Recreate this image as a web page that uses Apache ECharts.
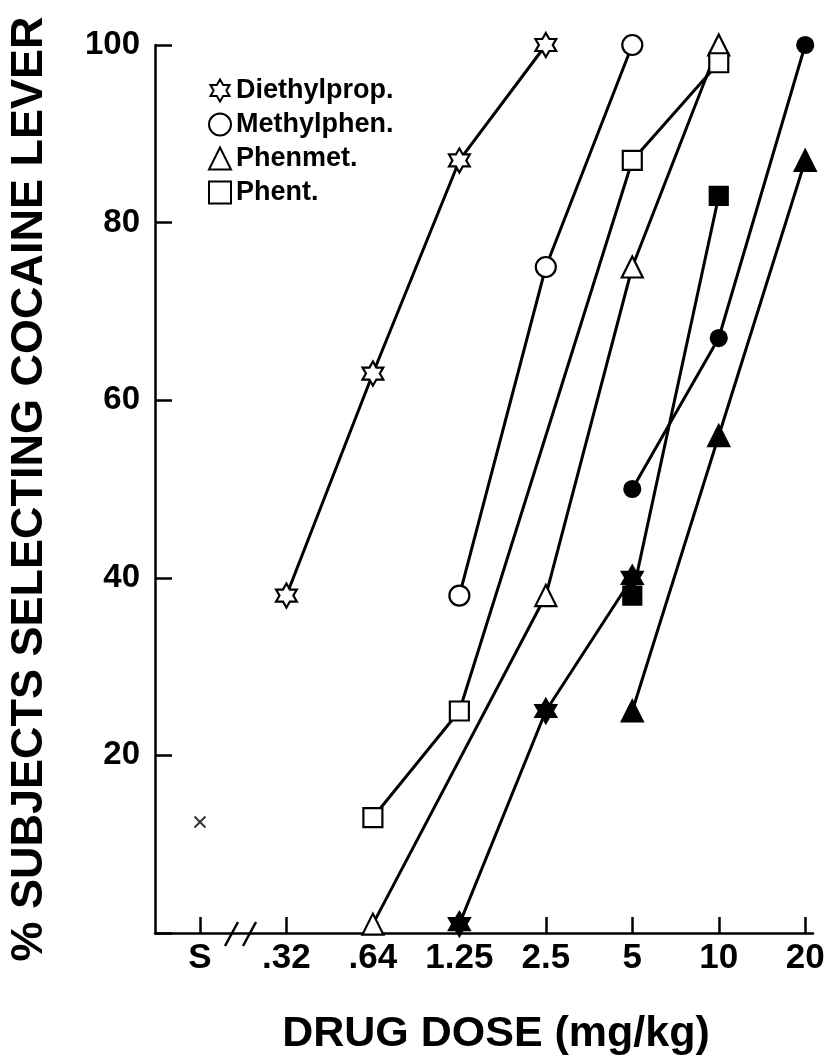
<!DOCTYPE html>
<html>
<head>
<meta charset="utf-8">
<script src="https://cdn.jsdelivr.net/npm/echarts@6/dist/echarts.min.js"></script>
<style>
  html, body { margin: 0; padding: 0; background: #fff; }
  #chart { width: 835px; height: 1059px; }
</style>
</head>
<body>
<div id="chart"></div>
<script>
// dose categories along the x axis (S = saline)
const doseLabels = ['S', '.32', '.64', '1.25', '2.5', '5', '10', '20'];
const yTicks = [0, 20, 40, 60, 80, 100];

// open symbols
const dietDose = ['.32', '.64', '1.25', '2.5'];
const dietPct = [38, 63, 87, 100];
const methDose = ['1.25', '2.5', '5'];
const methPct = [38, 75, 100];
const phenmetDose = ['.64', '2.5', '5', '10'];
const phenmetPct = [1, 38, 75, 100];
const phentDose = ['.64', '1.25', '5', '10'];
const phentPct = [13, 25, 87, 98];

// filled symbols
const dietFilledDose = ['1.25', '2.5', '5'];
const dietFilledPct = [1, 25, 40];
const methFilledDose = ['5', '10', '20'];
const methFilledPct = [50, 67, 100];
const phenmetFilledDose = ['5', '10', '20'];
const phenmetFilledPct = [25, 56, 87];
const phentFilledDose = ['5', '10'];
const phentFilledPct = [38, 83];

// saline
const salineDose = ['S'];
const salinePct = [12.5];

const FONT = "'Liberation Sans', Arial, Helvetica, sans-serif";

// six-pointed star outline
function hexagram() {
    const pts = [];
    for (let k = 0; k < 12; k++) {
        const a = (-90 + 30 * k) * Math.PI / 180;
        const r = k % 2 === 0 ? 50 : 28.87;
        pts.push((50 + r * Math.cos(a)).toFixed(2) + ',' + (50 + r * Math.sin(a)).toFixed(2));
    }
    return 'path://M' + pts.join('L') + 'Z';
}
const STAR = hexagram();

const toPoints = (doses, pcts) => doses.map((d, i) => [doseLabels.indexOf(d), pcts[i]]);

const lineSeries = (name, doses, pcts, symbol, size, filled) => ({
    name: name,
    type: 'line',
    data: toPoints(doses, pcts),
    symbol: symbol,
    symbolSize: size,
    symbolKeepAspect: true,
    showSymbol: true,
    silent: true,
    z: filled ? 3 : 4,
    lineStyle: { color: '#000', width: 3 },
    itemStyle: { color: filled ? '#000' : '#fff', borderColor: '#000', borderWidth: 2.2 },
    emphasis: { disabled: true },
})

const openStyle = { color: '#fff', borderColor: '#000', borderWidth: 2 };

const chart = echarts.init(document.getElementById('chart'));
const option = {
    animation: false,
    backgroundColor: '#fff',
    grid: { left: 155, right: 22, top: 45, bottom: 126, outerBoundsMode: 'none' },
    legend: {
        orient: 'vertical',
        left: 203,
        top: 72,
        itemWidth: 22,
        itemHeight: 22,
        itemGap: 7,
        selectedMode: false,
        textStyle: { fontFamily: FONT, fontWeight: 'bold', fontSize: 27, color: '#000' },
        data: [
            { name: 'Diethylprop.', icon: STAR, itemStyle: openStyle },
            { name: 'Methylphen.', icon: 'circle', itemStyle: openStyle },
            { name: 'Phenmet.', icon: 'triangle', itemStyle: openStyle },
            { name: 'Phent.', icon: 'rect', itemStyle: openStyle },
        ],
    },
    xAxis: {
        type: 'value',
        min: -0.52,
        max: 7.09,
        name: 'DRUG DOSE (mg/kg)',
        nameLocation: 'middle',
        nameGap: 80,
        nameTextStyle: { fontFamily: FONT, fontWeight: 'bold', fontSize: 43, color: '#000', padding: [0, 0, 0, 24] },
        axisLine: { lineStyle: { color: '#000', width: 2.5 } },
        axisTick: {
            inside: true,
            length: 16,
            customValues: doseLabels.map((d, i) => i),
            lineStyle: { color: '#000', width: 2.5 },
        },
        axisLabel: {
            customValues: doseLabels.map((d, i) => i),
            formatter: (v) => doseLabels[v],
            fontFamily: FONT,
            fontWeight: 'bold',
            fontSize: 35,
            color: '#000',
            margin: 8,
        },
        splitLine: { show: false },
    },
    yAxis: {
        type: 'value',
        min: 0,
        max: 100,
        interval: 20,
        name: '% SUBJECTS SELECTING COCAINE LEVER',
        nameLocation: 'middle',
        nameGap: 103,
        nameTextStyle: { fontFamily: FONT, fontWeight: 'bold', fontSize: 45, color: '#000' },
        axisLine: { show: true, onZero: false, lineStyle: { color: '#000', width: 2.5 } },
        axisTick: { show: true, inside: true, length: 17, lineStyle: { color: '#000', width: 2.5 } },
        axisLabel: {
            formatter: (v) => (v === 0 ? '' : String(v)),
            fontFamily: FONT,
            fontWeight: 'bold',
            fontSize: 33,
            color: '#000',
            margin: 15,
        },
        splitLine: { show: false },
    },
    series: [
        lineSeries('Diethylprop.', dietDose, dietPct, STAR, 24, false),
        lineSeries('Methylphen.', methDose, methPct, 'circle', 20, false),
        lineSeries('Phenmet.', phenmetDose, phenmetPct, 'triangle', 21, false),
        lineSeries('Phent.', phentDose, phentPct, 'rect', 19, false),
        lineSeries('Diethylprop. (filled)', dietFilledDose, dietFilledPct, STAR, 24, true),
        lineSeries('Methylphen. (filled)', methFilledDose, methFilledPct, 'circle', 16, true),
        lineSeries('Phenmet. (filled)', phenmetFilledDose, phenmetFilledPct, 'triangle', 21, true),
        lineSeries('Phent. (filled)', phentFilledDose, phentFilledPct, 'rect', 18, true),
        {
            name: 'Saline',
            type: 'scatter',
            data: toPoints(salineDose, salinePct),
            symbol: 'path://M0,0L10,10M10,0L0,10',
            symbolSize: 11,
            silent: true,
            itemStyle: { color: 'rgba(0,0,0,0)', borderColor: '#000', borderWidth: 2 },
        },
    ],
    // axis break marks between S and .32
    graphic: [
        { type: 'line', shape: { x1: 225, y1: 946, x2: 238, y2: 922 }, style: { stroke: '#000', lineWidth: 2.5 }, z: 10 },
        { type: 'line', shape: { x1: 243, y1: 946, x2: 256, y2: 922 }, style: { stroke: '#000', lineWidth: 2.5 }, z: 10 },
    ],
}
chart.setOption(option);
</script>
</body>
</html>
